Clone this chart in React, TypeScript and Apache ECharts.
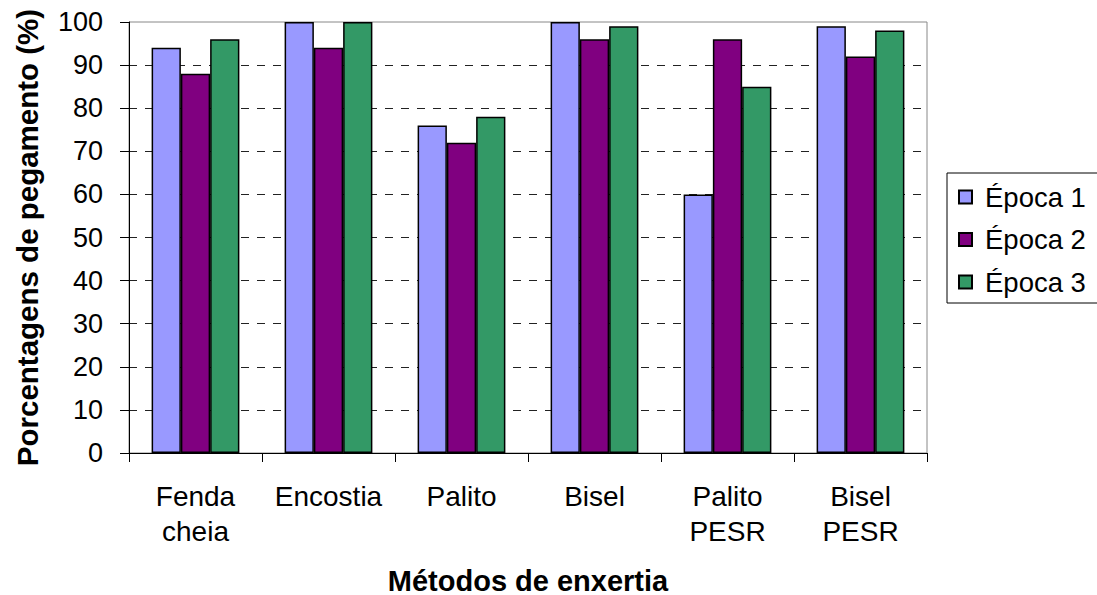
import React, { useEffect, useRef } from "react";
import * as echarts from "echarts";

const categories = ["Fenda\ncheia", "Encostia", "Palito", "Bisel", "Palito\nPESR", "Bisel\nPESR"];
const seriesNames = ["Época 1", "Época 2", "Época 3"];
const epoca1 = [94, 100, 76, 100, 60, 99];
const epoca2 = [88, 94, 72, 96, 96, 92];
const epoca3 = [96, 100, 78, 99, 85, 98];
const colors = ["#9999FF", "#800080", "#339966"];
const yTicks = { min: 0, max: 100, interval: 10 };

const FONT = "'Liberation Sans', Arial, Helvetica, sans-serif";

export default function App() {
  const ref = useRef<HTMLDivElement>(null);
  useEffect(() => {
    if (!ref.current) return;
    const chart = echarts.init(ref.current, null, { renderer: "svg" });
    const values = [epoca1, epoca2, epoca3];
    chart.setOption({
      animation: false,
      backgroundColor: "#ffffff",
      textStyle: { fontFamily: FONT },
      grid: {
        left: 129,
        right: 170,
        top: 22,
        bottom: 142,
        show: true,
        borderColor: "#888888",
        borderWidth: 1,
        backgroundColor: "transparent",
        containLabel: false,
        outerBoundsMode: "none",
      },
      legend: {
        orient: "vertical",
        left: 958,
        top: 183,
        padding: 0,
        itemWidth: 13,
        itemHeight: 13,
        itemGap: 14.5,
        icon: "rect",
        data: seriesNames,
        textStyle: {
          fontFamily: FONT,
          fontSize: 27.5,
          color: "#000",
          lineHeight: 28,
          padding: [0, 0, 0, 8],
        },
      },
      xAxis: {
        type: "category",
        data: categories,
        name: "Métodos de enxertia",
        nameLocation: "middle",
        nameGap: 113,
        nameTextStyle: { fontFamily: FONT, fontSize: 29, fontWeight: "bold", color: "#000" },
        axisLine: { lineStyle: { color: "#000", width: 1 } },
        axisTick: { show: true, length: 9, lineStyle: { color: "#000" } },
        axisLabel: {
          fontFamily: FONT,
          fontSize: 28,
          color: "#000",
          lineHeight: 35,
          margin: 26,
          interval: 0,
        },
        splitLine: { show: false },
      },
      yAxis: {
        type: "value",
        min: yTicks.min,
        max: yTicks.max,
        interval: yTicks.interval,
        name: "Porcentagens de pegamento (%)",
        nameLocation: "middle",
        nameGap: 87,
        nameRotate: 90,
        nameTextStyle: { fontFamily: FONT, fontSize: 29.5, fontWeight: "bold", color: "#000" },
        axisLine: { show: true, lineStyle: { color: "#000", width: 1 } },
        axisTick: { show: true, length: 9, lineStyle: { color: "#000" } },
        axisLabel: { fontFamily: FONT, fontSize: 27, color: "#000", margin: 26 },
        splitLine: {
          show: true,
          showMaxLine: false,
          showMinLine: false,
          lineStyle: { color: "#222", type: [8, 8], width: 1 },
        },
      },
      series: seriesNames.map((name, i) => ({
        name,
        type: "bar",
        data: values[i],
        barGap: "0%",
        barCategoryGap: "34%",
        itemStyle: { color: colors[i], borderColor: "#000", borderWidth: 1.5 },
      })),
      graphic: [
        {
          type: "rect",
          shape: { x: 947, y: 173, width: 170, height: 130 },
          style: { fill: "none", stroke: "#000", lineWidth: 1 },
          silent: true,
        },
      ],
    });
    return () => chart.dispose();
  }, []);
  return (
    <div
      ref={ref}
      style={{ position: "fixed", left: 0, top: 0, width: 1097, height: 595, background: "#fff" }}
    />
  );
}
